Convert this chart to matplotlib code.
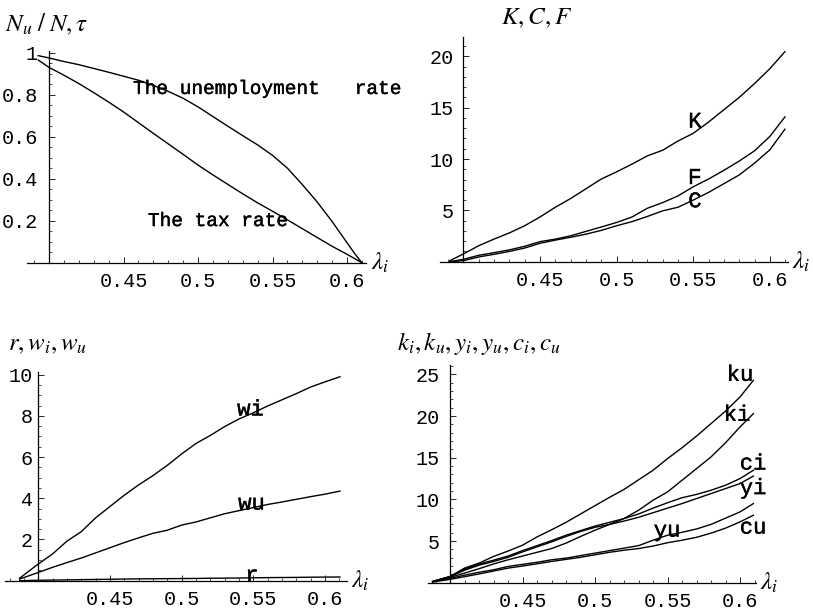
import numpy as np
import matplotlib
matplotlib.use("Agg")
import matplotlib.pyplot as plt
import matplotlib.patheffects as pe
from matplotlib.ticker import FixedLocator, MultipleLocator

plt.rcParams['mathtext.fontset'] = 'stix'
plt.rcParams['font.family'] = ['Liberation Mono', 'DejaVu Sans']

# ---------------- data ----------------
# (a) unemployment rate N_u/N and tax rate tau
lam_a = [0.3928, 0.40, 0.41, 0.42, 0.43, 0.44, 0.45, 0.46, 0.47, 0.48, 0.49, 0.50,
         0.51, 0.52, 0.53, 0.54, 0.55, 0.56, 0.57, 0.58, 0.59, 0.60, 0.605, 0.6099]
unemployment = [0.986, 0.975, 0.958, 0.943, 0.925, 0.907, 0.888, 0.869, 0.844, 0.816,
                0.783, 0.742, 0.696, 0.650, 0.605, 0.561, 0.511, 0.450, 0.372, 0.289,
                0.196, 0.095, 0.045, 0.0]
tax = [0.965, 0.930, 0.893, 0.853, 0.810, 0.765, 0.718, 0.667, 0.616, 0.566, 0.516,
       0.465, 0.418, 0.373, 0.328, 0.285, 0.245, 0.204, 0.162, 0.120, 0.078, 0.040,
       0.020, 0.0]

# (b) aggregate K, C, F
lam_b = [0.3913, 0.40, 0.41, 0.42, 0.43, 0.44, 0.45, 0.46, 0.47, 0.48, 0.49, 0.50,
         0.51, 0.52, 0.53, 0.54, 0.55, 0.56, 0.57, 0.58, 0.59, 0.60, 0.6098]
K = [0.1, 0.75, 1.55, 2.2, 2.8, 3.5, 4.35, 5.3, 6.15, 7.1, 8.05, 8.75, 9.5, 10.3,
     10.85, 11.75, 12.5, 13.6, 14.8, 16.0, 17.35, 18.8, 20.45]
F = [0.0, 0.23, 0.62, 0.88, 1.15, 1.5, 1.95, 2.2, 2.52, 2.95, 3.38, 3.82, 4.35, 5.2,
     5.75, 6.4, 7.3, 8.05, 8.9, 9.8, 10.8, 12.2, 14.1]
C = [0.0, 0.1, 0.46, 0.72, 1.0, 1.33, 1.79, 2.1, 2.38, 2.68, 3.05, 3.5, 3.9, 4.4,
     4.95, 5.3, 6.0, 6.75, 7.6, 8.45, 9.6, 10.9, 12.9]

# (c) interest rate and wages
lam_c = [0.387, 0.40, 0.41, 0.42, 0.43, 0.44, 0.45, 0.46, 0.47, 0.48, 0.49, 0.50,
         0.51, 0.52, 0.53, 0.54, 0.55, 0.56, 0.57, 0.58, 0.59, 0.60, 0.6105]
wi = [0.12, 0.81, 1.3, 1.92, 2.38, 3.05, 3.6, 4.15, 4.65, 5.1, 5.6, 6.15, 6.66, 7.05,
      7.48, 7.85, 8.15, 8.48, 8.78, 9.08, 9.4, 9.65, 9.9]
wu = [0.08, 0.40, 0.65, 0.88, 1.1, 1.35, 1.6, 1.85, 2.08, 2.3, 2.45, 2.7, 2.85, 3.05,
      3.25, 3.4, 3.55, 3.7, 3.82, 3.95, 4.08, 4.2, 4.35]
r = [0.0, 0.02, 0.03, 0.04, 0.05, 0.06, 0.07, 0.08, 0.09, 0.095, 0.10, 0.105, 0.11,
     0.12, 0.125, 0.13, 0.14, 0.15, 0.155, 0.16, 0.17, 0.175, 0.18]

# (d) per-capita capital, output and consumption
lam_d = [0.388, 0.40, 0.41, 0.42, 0.43, 0.44, 0.45, 0.46, 0.47, 0.48, 0.49, 0.50,
         0.51, 0.52, 0.53, 0.54, 0.55, 0.56, 0.57, 0.58, 0.59, 0.60, 0.6092]
ku = [0.15, 0.75, 1.75, 2.35, 3.15, 3.8, 4.5, 5.5, 6.35, 7.25, 8.25, 9.25, 10.25,
      11.2, 12.35, 13.5, 14.9, 16.2, 17.6, 19.1, 20.6, 22.3, 24.3]
ki = [0.12, 0.64, 1.15, 1.68, 2.25, 2.75, 3.2, 3.65, 4.1, 4.75, 5.55, 6.3, 7.0, 7.7,
      8.7, 9.9, 10.9, 12.3, 13.7, 15.1, 16.8, 18.7, 20.3]
ci = [0.15, 0.72, 1.62, 2.25, 2.7, 3.2, 3.85, 4.45, 5.05, 5.7, 6.25, 6.8, 7.25, 7.7,
      8.25, 8.95, 9.6, 10.2, 10.6, 11.1, 11.7, 12.5, 13.5]
yi = [0.15, 0.72, 1.5, 2.1, 2.55, 3.05, 3.7, 4.3, 4.9, 5.55, 6.15, 6.65, 7.0, 7.4,
      7.85, 8.4, 8.95, 9.5, 10.1, 10.7, 11.3, 11.9, 12.8]
yu = [0.1, 0.52, 0.9, 1.25, 1.55, 1.95, 2.2, 2.45, 2.75, 2.95, 3.25, 3.55, 3.85, 4.15,
      4.45, 5.1, 5.7, 6.05, 6.45, 7.0, 7.75, 8.5, 9.5]
cu = [0.08, 0.4, 0.72, 1.05, 1.4, 1.75, 2.0, 2.27, 2.55, 2.8, 3.05, 3.35, 3.65, 3.9,
      4.1, 4.4, 4.8, 5.1, 5.45, 5.95, 6.55, 7.3, 8.1]

# tick positions / labels
x_ticks = [0.45, 0.5, 0.55, 0.6]
x_ticklabels = ['0.45', '0.5', '0.55', '0.6']
y_ticks_a = [0.2, 0.4, 0.6, 0.8, 1.0]
y_ticklabels_a = ['0.2', '0.4', '0.6', '0.8', '1']
y_ticks_b = [5, 10, 15, 20]
y_ticks_c = [2, 4, 6, 8, 10]
y_ticks_d = [5, 10, 15, 20, 25]

# ---------------- drawing ----------------
W, H = 813, 614
fig = plt.figure(figsize=(W / 100, H / 100), dpi=100)
LW = 1.0
TICK_FS = 14.5
LAB_FS = 16
TITLE_FS = 18
heavy = [pe.withStroke(linewidth=0.3, foreground='black')]


def panel(box, xlim, ylim, yticks, yticklabels, yminor, ypad=7):
    left, top, right, bottom = box
    ax = fig.add_axes([left / W, 1 - bottom / H, (right - left) / W, (bottom - top) / H])
    ax.set_xlim(*xlim)
    ax.set_ylim(*ylim)
    for s in ('top', 'right'):
        ax.spines[s].set_visible(False)
    ax.spines['left'].set_position(('data', 0.4))
    ax.spines['bottom'].set_position(('data', 0.0))
    for s in ('left', 'bottom'):
        ax.spines[s].set_linewidth(0.9)
    ax.patch.set_alpha(0)
    ax.xaxis.set_major_locator(FixedLocator(x_ticks))
    ax.set_xticklabels(x_ticklabels)
    ax.xaxis.set_minor_locator(MultipleLocator(0.01))
    ax.yaxis.set_major_locator(FixedLocator(yticks))
    ax.set_yticklabels(yticklabels)
    ax.yaxis.set_minor_locator(MultipleLocator(yminor))
    ax.tick_params(which='major', direction='in', length=4, width=0.6,
                   labelsize=TICK_FS)
    ax.tick_params(which='minor', direction='in', length=2, width=0.5)
    ax.tick_params(axis='x', pad=7)
    ax.tick_params(axis='y', pad=ypad)
    for t in ax.get_xticklabels() + ax.get_yticklabels():
        t.set_family('Liberation Mono')
    ax.annotate(r'$\lambda_i$', xy=(1, 0), xycoords=('axes fraction', 'data'),
                xytext=(3, 0), textcoords='offset points', ha='left', va='center',
                fontsize=18, annotation_clip=False)
    return ax


def label(ax, x, y, s, size=LAB_FS, ha='center'):
    ax.text(x, y, s, fontsize=size, ha=ha, va='center', path_effects=heavy)


# (a)
ax1 = panel((26.65, 50.6, 366.4, 262.7), (0.385, 0.613), (0, 1.01),
            y_ticks_a, y_ticklabels_a, 0.05, ypad=8)
ax1.plot(lam_a, unemployment, color='black', lw=LW)
ax1.plot(lam_a, tax, color='black', lw=LW)
label(ax1, 0.4564, 0.825, 'The unemployment   rate', size=14, ha='left')
label(ax1, 0.4664, 0.196, 'The tax rate', size=14, ha='left')
fig.text(5 / W, 1 - 31 / H, r'$N_u\;/\;N,\tau$', fontsize=TITLE_FS, ha='left',
         va='baseline')

# (b)
ax2 = panel((440.0, 36.8, 788.3, 261.7), (0.3848, 0.612), (0, 21.9),
            y_ticks_b, [str(v) for v in y_ticks_b], 1)
ax2.plot(lam_b, K, color='black', lw=LW)
ax2.plot(lam_b, F, color='black', lw=LW)
ax2.plot(lam_b, C, color='black', lw=LW)
label(ax2, 0.5511, 13.6, 'K')
label(ax2, 0.5511, 8.12, 'F')
label(ax2, 0.5511, 5.84, 'C')
fig.text(501 / W, 1 - 24 / H, r'$K,C,F$', fontsize=TITLE_FS, ha='left',
         va='baseline')

# (c)
ax3 = panel((5.3, 371.6, 347.0, 580.7), (0.377, 0.6154), (0, 10.15),
            y_ticks_c, [str(v) for v in y_ticks_c], 0.5, ypad=4)
ax3.plot(lam_c, wi, color='black', lw=LW)
ax3.plot(lam_c, wu, color='black', lw=LW)
ax3.plot(lam_c, r, color='black', lw=LW)
label(ax3, 0.5481, 8.29, 'wi')
label(ax3, 0.5488, 3.72, 'wu')
label(ax3, 0.5491, 0.23, 'r')
fig.text(8 / W, 1 - 350 / H, r'$r,w_i,w_u$', fontsize=TITLE_FS, ha='left',
         va='baseline')

# (d)
ax4 = panel((428.0, 365.3, 755.7, 582.7), (0.3848, 0.6108), (0, 26.1),
            y_ticks_d, [str(v) for v in y_ticks_d], 1)
for series in (ku, ki, ci, yi, yu, cu):
    ax4.plot(lam_d, series, color='black', lw=LW)
label(ax4, 0.6000, 24.9, 'ku')
label(ax4, 0.5979, 20.1, 'ki')
label(ax4, 0.6090, 14.25, 'ci')
label(ax4, 0.6090, 11.3, 'yi')
label(ax4, 0.5497, 6.2, 'yu')
label(ax4, 0.6090, 6.56, 'cu')
fig.text(397 / W, 1 - 350 / H, r'$k_i,k_u,y_i,y_u,c_i,c_u$',
         fontsize=TITLE_FS, ha='left', va='baseline')

fig.savefig('out.png', dpi=100)
